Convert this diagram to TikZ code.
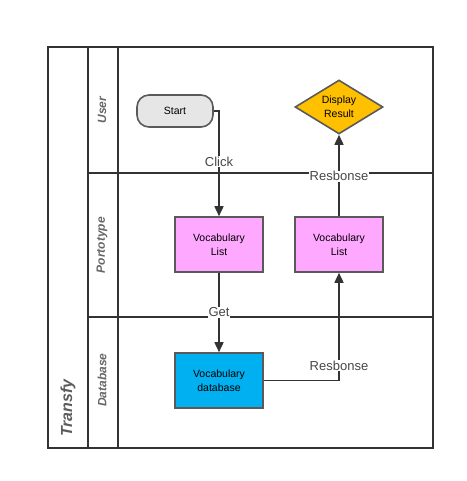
\documentclass[tikz,border=0pt]{standalone}
\usepackage{fontspec}
\setmainfont{Liberation Sans}
\usetikzlibrary{arrows.meta,shapes.geometric}
\definecolor{framec}{HTML}{333333}
\definecolor{borderc}{HTML}{5A5A5A}
\definecolor{startfill}{HTML}{E6E6E6}
\definecolor{pinkfill}{HTML}{FFA8FF}
\definecolor{goldfill}{HTML}{FFC000}
\definecolor{bluefill}{HTML}{00B0F0}
\definecolor{titlec}{HTML}{666666}
\begin{document}
\begin{tikzpicture}[x=1pt,y=-1pt,
  frame/.style={draw=framec,line width=1.8pt},
  box/.style={draw=borderc,line width=1.6pt,minimum width=88pt,minimum height=55pt,
    align=center,inner sep=0pt,font=\fontsize{10.5}{14}\selectfont},
  startbox/.style={draw=borderc,line width=1.6pt,rounded corners=12pt,minimum width=76pt,
    minimum height=32pt,inner sep=0pt,font=\fontsize{10.5}{14}\selectfont},
  decision/.style={diamond,draw=borderc,line width=1.6pt,minimum width=88pt,minimum height=54pt,
    aspect=1.63,inner sep=0pt,align=center,font=\fontsize{10.5}{14}\selectfont},
  flow/.style={draw=framec,line width=1.6pt,-{Triangle[length=10pt,width=9pt]}},
  flowlabel/.style={fill=white,inner sep=1pt,text=framec!90,font=\fontsize{13}{15}\selectfont},
  lanetitle/.style={rotate=90,text=titlec,font=\fontsize{12}{14}\selectfont\bfseries\itshape},
  pooltitle/.style={rotate=90,text=titlec!90!black,font=\fontsize{16}{18}\selectfont\bfseries\itshape}]
\useasboundingbox (0,0) rectangle (466,481);
% pool and lanes
\draw[frame] (48,47) rectangle (433,448);
\draw[frame] (88,47) -- (88,448);
\draw[frame] (118,47) -- (118,448);
\draw[frame] (88,173) -- (433,173);
\draw[frame] (88,317) -- (433,317);
\node[pooltitle] (pool) at (68,408) {Transfy};
\node[lanetitle] (laneuser) at (102,110) {User};
\node[lanetitle] (laneproto) at (102,245) {Portotype};
\node[lanetitle] (lanedb) at (102,380) {Database};
% nodes
\node[startbox,fill=startfill] (start) at (175,111) {Start};
\node[decision,fill=goldfill] (disp) at (339,107) {Display\\Result};
\node[box,fill=pinkfill] (v1) at (219,244.5) {Vocabulary\\List};
\node[box,fill=pinkfill] (v2) at (339,244.5) {Vocabulary\\List};
\node[box,fill=bluefill] (db) at (219,380.5) {Vocabulary\\database};
% connectors
\draw[flow] (start.east) -| node[flowlabel,pos=0.74] {Click} (v1.north);
\draw[flow] (v1.south) -- node[flowlabel,pos=0.5] {Get} (db.north);
\draw[flow] (db.east) -| node[flowlabel,pos=0.57] {Resbonse} (v2.south);
\draw[flow] (v2.north) -- node[flowlabel,pos=0.49] {Resbonse} (disp.south);
\end{tikzpicture}
\end{document}
